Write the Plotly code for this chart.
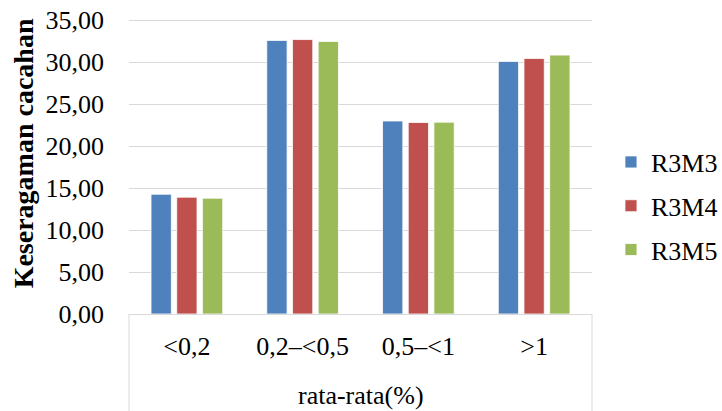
import plotly.graph_objects as go

categories = ["<0,2", "0,2–<0,5", "0,5–<1", ">1"]
series_names = ["R3M3", "R3M4", "R3M5"]
r3m3 = [14.27, 32.60, 23.00, 30.10]
r3m4 = [13.92, 32.70, 22.82, 30.45]
r3m5 = [13.80, 32.48, 22.86, 30.85]
colors = ["#4F81BD", "#C0504D", "#9BBB59"]
y_ticks = [0, 5, 10, 15, 20, 25, 30, 35]
y_title = "<b>Keseragaman cacahan</b>"
x_title = "rata-rata(%)"

FONT = "Liberation Serif, Times New Roman, serif"

fig = go.Figure()
for i, (name, vals) in enumerate(zip(series_names, [r3m3, r3m4, r3m5])):
    fig.add_trace(go.Bar(
        x=categories, y=vals, name=name, legendgroup=name,
        marker=dict(color=colors[i], line=dict(color="white", width=0.8)),
    ))

fig.update_layout(
    width=722, height=411,
    margin=dict(l=129, r=130, t=19, b=97, autoexpand=False),
    paper_bgcolor="white", plot_bgcolor="white",
    separators=",.",
    barmode="group", bargap=0.334, bargroupgap=0.21,
    font=dict(family=FONT, size=26, color="black"),
    showlegend=True,
    legend=dict(
        x=1.041, xanchor="left", y=0.366, yanchor="middle",
        traceorder="grouped", tracegroupgap=7,
        font=dict(family=FONT, size=26, color="black"),
        itemwidth=30, bgcolor="rgba(0,0,0,0)",
    ),
    xaxis=dict(
        showgrid=False, showline=True, linecolor="#D9D9D9", linewidth=1,
        ticks="", ticklabelstandoff=9, automargin=False,
        tickfont=dict(family=FONT, size=26),
    ),
    yaxis=dict(
        range=[0, 35.15], tickvals=y_ticks, tickformat=".2f",
        showgrid=True, gridcolor="#D9D9D9", gridwidth=1,
        zeroline=False, showline=False, ticks="",
        ticklabelstandoff=24, automargin=False,
        ticklabeloverflow="allow",
        tickfont=dict(family=FONT, size=26),
    ),
)

fig.add_annotation(text=y_title, xref="paper", yref="paper",
                   x=-0.228, y=0.546, xanchor="center", yanchor="middle",
                   textangle=-90, showarrow=False,
                   font=dict(family=FONT, size=28, color="black"))
fig.add_annotation(text=x_title, xref="paper", yref="paper",
                   x=0.5, y=-0.2746, xanchor="center", yanchor="middle",
                   showarrow=False,
                   font=dict(family=FONT, size=26, color="black"))

for xp in [0, 1]:
    fig.add_shape(type="line", xref="paper", yref="paper",
                  x0=xp, x1=xp, y0=0, y1=-0.34,
                  line=dict(color="#D9D9D9", width=1))

fig.write_html(
    "out.html",
    config={"displayModeBar": False},
    post_script="document.body.style.margin='0';document.body.style.overflow='hidden';",
)
